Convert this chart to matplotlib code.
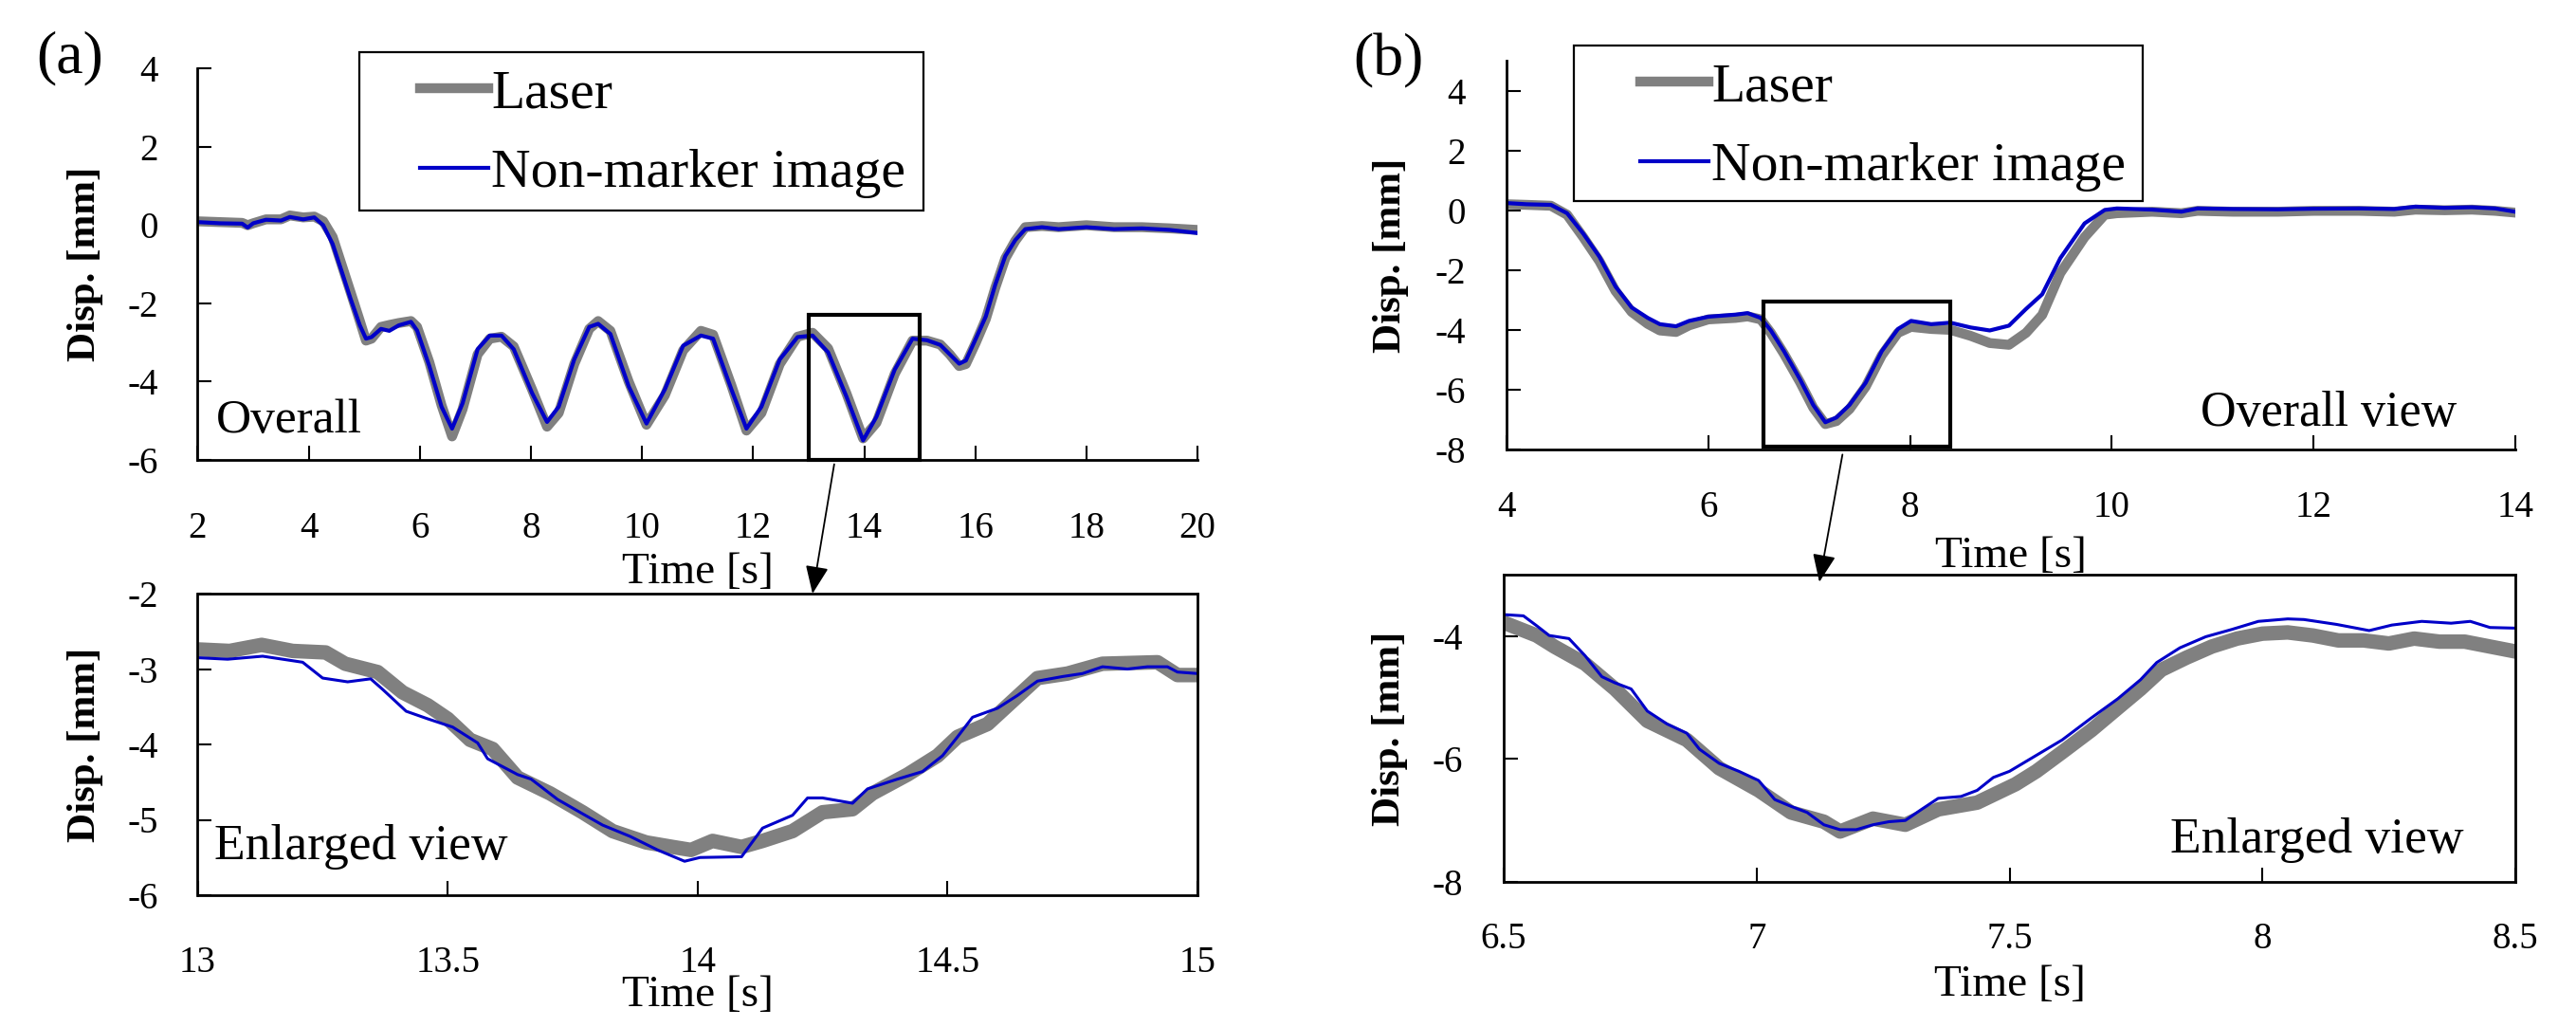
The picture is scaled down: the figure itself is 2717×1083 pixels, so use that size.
import numpy as np
import matplotlib
matplotlib.use('Agg')
import matplotlib.pyplot as plt
from matplotlib.patches import Rectangle

plt.rcParams['font.family'] = 'serif'
plt.rcParams['font.serif'] = ['Liberation Serif', 'Times New Roman', 'DejaVu Serif']
plt.rcParams['axes.unicode_minus'] = False

# ---- (a) overall ----
t_a = [2.0, 2.4, 2.8, 2.9, 3.0, 3.23, 3.5, 3.66, 3.9, 4.1, 4.26, 4.43, 4.59, 4.75, 4.92, 5.03,
       5.13, 5.3, 5.45, 5.62, 5.84, 5.95, 6.17, 6.39, 6.58, 6.77, 7.04, 7.26, 7.47, 7.69, 8.02,
       8.29, 8.5, 8.78, 9.05, 9.21, 9.43, 9.76, 10.08, 10.41, 10.74, 11.06, 11.28, 11.61, 11.88,
       12.15, 12.48, 12.8, 13.07, 13.35, 13.68, 13.98, 14.22, 14.55, 14.87, 15.13, 15.37, 15.54,
       15.71, 15.83, 16.01, 16.19, 16.36, 16.54, 16.72, 16.9, 17.2, 17.5, 18.0, 18.5, 19.0, 19.5, 20.0]
img_a = [0.08, 0.05, 0.04, -0.06, 0.05, 0.14, 0.12, 0.21, 0.15, 0.2, 0.0, -0.48, -1.17, -1.87,
         -2.56, -2.9, -2.86, -2.65, -2.7, -2.56, -2.47, -2.69, -3.6, -4.64, -5.2, -4.55, -3.17,
         -2.82, -2.82, -3.17, -4.29, -5.03, -4.64, -3.43, -2.6, -2.52, -2.78, -4.12, -5.07, -4.2,
         -3.08, -2.82, -2.9, -4.2, -5.2, -4.64, -3.43, -2.86, -2.82, -3.25, -4.38, -5.5, -4.9,
         -3.69, -2.9, -2.94, -3.06, -3.3, -3.54, -3.46, -2.9, -2.33, -1.52, -0.79, -0.38, -0.1,
         -0.05, -0.1, -0.05, -0.1, -0.08, -0.12, -0.2]
laser_a = [0.1, 0.08, 0.06, 0.0, 0.05, 0.15, 0.15, 0.25, 0.2, 0.22, 0.1, -0.3, -1.0, -1.7,
           -2.45, -2.95, -2.9, -2.6, -2.55, -2.5, -2.45, -2.6, -3.5, -4.6, -5.4, -4.7, -3.3,
           -2.9, -2.85, -3.1, -4.2, -5.15, -4.8, -3.55, -2.65, -2.45, -2.7, -4.0, -5.1, -4.35,
           -3.2, -2.7, -2.8, -4.1, -5.25, -4.8, -3.55, -2.85, -2.75, -3.15, -4.3, -5.45, -5.05,
           -3.8, -2.95, -2.95, -3.05, -3.3, -3.6, -3.55, -3.0, -2.4, -1.6, -0.85, -0.4, -0.05,
           -0.02, -0.05, 0.0, -0.05, -0.05, -0.08, -0.12]

# ---- (a) enlarged ----
t_a_img = [13.0, 13.06, 13.13, 13.21, 13.25, 13.3, 13.346, 13.37, 13.417, 13.46, 13.51, 13.56,
           13.58, 13.64, 13.667, 13.72, 13.77, 13.81, 13.865, 13.92, 13.974, 14.005, 14.088,
           14.13, 14.19, 14.22, 14.25, 14.31, 14.34, 14.4, 14.45, 14.49, 14.52, 14.55, 14.6,
           14.64, 14.68, 14.73, 14.77, 14.81, 14.86, 14.9, 14.94, 14.96, 15.0]
img_a_zoom = [-2.85, -2.87, -2.83, -2.91, -3.12, -3.17, -3.13, -3.27, -3.56, -3.66, -3.77, -3.98,
              -4.19, -4.4, -4.46, -4.73, -4.92, -5.07, -5.22, -5.4, -5.55, -5.5, -5.49, -5.11,
              -4.94, -4.71, -4.71, -4.78, -4.59, -4.46, -4.36, -4.15, -3.9, -3.64, -3.52, -3.35,
              -3.16, -3.1, -3.06, -2.97, -3.0, -2.97, -2.97, -3.04, -3.06]
t_a_las = [13.0, 13.064, 13.128, 13.19, 13.256, 13.295, 13.36, 13.41, 13.46, 13.5, 13.545, 13.59,
           13.64, 13.705, 13.77, 13.83, 13.897, 13.95, 13.987, 14.03, 14.088, 14.13, 14.19, 14.25,
           14.31, 14.35, 14.42, 14.48, 14.52, 14.58, 14.68, 14.74, 14.81, 14.92, 14.96, 15.0]
laser_a_zoom = [-2.74, -2.76, -2.68, -2.76, -2.78, -2.93, -3.04, -3.31, -3.48, -3.66, -3.94, -4.06,
                -4.44, -4.65, -4.9, -5.15, -5.3, -5.36, -5.4, -5.28, -5.36, -5.28, -5.15, -4.9,
                -4.86, -4.65, -4.4, -4.15, -3.9, -3.73, -3.12, -3.06, -2.93, -2.91, -3.08, -3.08]

# ---- (b) overall ----
t_b = [4.0, 4.2, 4.44, 4.6, 4.76, 4.92, 5.08, 5.24, 5.4, 5.52, 5.68, 5.81, 6.0, 6.27, 6.39, 6.52,
       6.62, 6.75, 6.91, 7.04, 7.16, 7.27, 7.4, 7.56, 7.72, 7.88, 8.01, 8.21, 8.4, 8.6, 8.79, 8.98,
       9.15, 9.31, 9.49, 9.73, 9.93, 10.05, 10.4, 10.69, 10.85, 11.2, 11.65, 12.0, 12.45, 12.8,
       13.01, 13.3, 13.57, 13.8, 14.0]
img_b = [0.24, 0.2, 0.18, -0.1, -0.78, -1.55, -2.55, -3.25, -3.6, -3.81, -3.88, -3.7, -3.56,
         -3.49, -3.44, -3.6, -4.02, -4.71, -5.66, -6.51, -7.09, -6.93, -6.51, -5.77, -4.71, -3.97,
         -3.7, -3.81, -3.76, -3.92, -4.02, -3.86, -3.3, -2.81, -1.6, -0.44, 0.01, 0.06, 0.02,
         -0.05, 0.06, 0.04, 0.03, 0.05, 0.06, 0.04, 0.12, 0.08, 0.1, 0.06, -0.05]
laser_b = [0.2, 0.18, 0.15, -0.15, -0.9, -1.7, -2.7, -3.4, -3.8, -4.02, -4.07, -3.85, -3.65,
           -3.6, -3.55, -3.65, -4.1, -4.8, -5.75, -6.6, -7.15, -7.05, -6.65, -5.9, -4.85, -4.1,
           -3.9, -3.97, -4.0, -4.2, -4.44, -4.5, -4.1, -3.5, -2.1, -0.9, -0.15, -0.1, -0.05,
           -0.1, -0.02, -0.05, -0.05, -0.02, -0.02, -0.05, 0.02, 0.0, 0.02, -0.02, -0.08]

# ---- (b) enlarged ----
t_b_img = [6.5, 6.539, 6.565, 6.59, 6.629, 6.661, 6.694, 6.72, 6.752, 6.784, 6.823, 6.862, 6.887,
           6.926, 6.965, 7.004, 7.036, 7.068, 7.1, 7.133, 7.165, 7.197, 7.23, 7.262, 7.294, 7.326,
           7.359, 7.404, 7.436, 7.468, 7.5, 7.553, 7.604, 7.662, 7.714, 7.759, 7.791, 7.837,
           7.888, 7.94, 7.992, 8.05, 8.082, 8.147, 8.211, 8.256, 8.315, 8.373, 8.411, 8.45, 8.5]
img_b_zoom = [-3.65, -3.67, -3.83, -3.99, -4.04, -4.32, -4.66, -4.76, -4.86, -5.22, -5.43, -5.58,
              -5.84, -6.07, -6.2, -6.35, -6.66, -6.77, -6.87, -7.07, -7.15, -7.15, -7.07, -7.02,
              -7.0, -6.82, -6.64, -6.61, -6.51, -6.3, -6.2, -5.94, -5.69, -5.33, -5.02, -4.71,
              -4.43, -4.19, -4.01, -3.89, -3.76, -3.72, -3.73, -3.81, -3.91, -3.82, -3.76, -3.79,
              -3.76, -3.86, -3.87]
t_b_las = [6.5, 6.565, 6.6, 6.661, 6.72, 6.784, 6.862, 6.926, 7.004, 7.068, 7.133, 7.165, 7.23,
           7.294, 7.359, 7.436, 7.512, 7.553, 7.604, 7.662, 7.714, 7.759, 7.8, 7.85, 7.9, 7.95,
           8.0, 8.05, 8.1, 8.15, 8.2, 8.25, 8.3, 8.35, 8.4, 8.45, 8.5]
laser_b_zoom = [-3.78, -3.99, -4.17, -4.45, -4.86, -5.38, -5.69, -6.15, -6.51, -6.87, -7.02,
                -7.18, -6.97, -7.07, -6.82, -6.71, -6.41, -6.2, -5.89, -5.53, -5.17, -4.86,
                -4.55, -4.35, -4.17, -4.04, -3.96, -3.94, -3.99, -4.07, -4.07, -4.12, -4.04,
                -4.09, -4.09, -4.17, -4.25]

# zoom windows marked on the overall plots: t0, t1, v0, v1
win_a = [13.0, 15.0, -6.0, -2.3]
win_b = [6.55, 8.4, -7.9, -3.05]

xt_a = [2, 4, 6, 8, 10, 12, 14, 16, 18, 20]
yt_a = [4, 2, 0, -2, -4, -6]
xt_az = [13, 13.5, 14, 14.5, 15]
xl_az = ['13', '13.5', '14', '14.5', '15']
yt_az = [-2, -3, -4, -5, -6]
xt_b = [4, 6, 8, 10, 12, 14]
yt_b = [4, 2, 0, -2, -4, -6, -8]
xt_bz = [6.5, 7, 7.5, 8, 8.5]
xl_bz = ['6.5', '7', '7.5', '8', '8.5']
yt_bz = [-4, -6, -8]

GRAY = '#808080'
BLUE = '#0000c8'
W, H = 2717, 1083


def ax_px(left, top, right, bottom):
    return [left / W, 1 - bottom / H, (right - left) / W, (bottom - top) / H]


fig = plt.figure(figsize=(W / 100, H / 100), dpi=100)

ax_a = fig.add_axes(ax_px(208.5, 72.5, 1263, 485))
ax_az = fig.add_axes(ax_px(208.5, 626, 1263, 944))
ax_b = fig.add_axes(ax_px(1589, 64, 2653, 474))
ax_bz = fig.add_axes(ax_px(1586, 606, 2653, 930))


def style(ax, box, pad_x, pad_y):
    for s in ['top', 'right']:
        ax.spines[s].set_visible(box)
    for s in ax.spines.values():
        s.set_linewidth(2.0)
    ax.tick_params(direction='in', length=11, width=1.5, labelsize=28,
                   top=False, right=False)
    ax.tick_params(axis='x', pad=pad_x)
    ax.tick_params(axis='y', pad=pad_y)


# (a) overall
ax_a.plot(t_a, laser_a, color=GRAY, lw=7.5, solid_joinstyle='round', label='Laser')
ax_a.plot(t_a, img_a, color=BLUE, lw=3.0, label='Non-marker image')
ax_a.set_xlim(2, 20)
ax_a.set_ylim(-6, 4)
ax_a.set_xticks(xt_a)
ax_a.set_yticks(yt_a)
style(ax_a, False, 39, 30)
ax_a.add_patch(Rectangle((win_a[0], win_a[2]), win_a[1] - win_a[0], win_a[3] - win_a[2],
                         fill=False, ec='k', lw=3, clip_on=False, zorder=5))
ax_a.text(0.018, 0.10, 'Overall', transform=ax_a.transAxes, fontsize=37,
          ha='left', va='center')

# (a) enlarged
ax_az.plot(t_a_las, laser_a_zoom, color=GRAY, lw=11, solid_joinstyle='round')
ax_az.plot(t_a_img, img_a_zoom, color=BLUE, lw=2.2)
ax_az.set_xlim(13, 15)
ax_az.set_ylim(-6, -2)
ax_az.set_xticks(xt_az)
ax_az.set_xticklabels(xl_az)
ax_az.set_yticks(yt_az)
style(ax_az, True, 38, 30)
ax_az.text(0.017, 0.16, 'Enlarged view', transform=ax_az.transAxes, fontsize=38.5,
           ha='left', va='center')

# (b) overall
ax_b.plot(t_b, laser_b, color=GRAY, lw=7.5, solid_joinstyle='round', label='Laser')
ax_b.plot(t_b, img_b, color=BLUE, lw=3.0, label='Non-marker image')
ax_b.set_xlim(4, 14)
ax_b.set_ylim(-8, 5)
ax_b.set_xticks(xt_b)
ax_b.set_yticks(yt_b)
style(ax_b, False, 31, 31)
ax_b.add_patch(Rectangle((win_b[0], win_b[2]), win_b[1] - win_b[0], win_b[3] - win_b[2],
                         fill=False, ec='k', lw=3, clip_on=False, zorder=5))
ax_b.text(0.942, 0.093, 'Overall view', transform=ax_b.transAxes, fontsize=37.5,
          ha='right', va='center')

# (b) enlarged
ax_bz.plot(t_b_las, laser_b_zoom, color=GRAY, lw=11, solid_joinstyle='round')
ax_bz.plot(t_b_img, img_b_zoom, color=BLUE, lw=2.2)
ax_bz.set_xlim(6.5, 8.5)
ax_bz.set_ylim(-8, -3)
ax_bz.set_xticks(xt_bz)
ax_bz.set_xticklabels(xl_bz)
ax_bz.set_yticks(yt_bz)
style(ax_bz, True, 30, 31)
ax_bz.text(0.949, 0.136, 'Enlarged view', transform=ax_bz.transAxes, fontsize=38.5,
           ha='right', va='center')

# axis labels
for ax, yl_x, xl_y in [(ax_a, -0.288, None), (ax_az, -0.334, None),
                       (ax_b, -0.274, None), (ax_bz, -0.335, None)]:
    pass

for ax, yl_x, xl_y in [(ax_a, -0.112, -0.288), (ax_az, -0.112, -0.334),
                       (ax_b, -0.115, -0.274), (ax_bz, -0.112, -0.335)]:
    ax.set_xlabel('Time [s]', fontsize=34, va='center')
    ax.xaxis.set_label_coords(0.5, xl_y)
    ax.set_ylabel('Disp. [mm]', fontsize=31, fontweight='bold', va='center')
    ax.yaxis.set_label_coords(yl_x, 0.5)

# arrows from the zoom box to the enlarged view
ax_az.annotate('', xy=(14.23, -2.0), xycoords='data',
               xytext=(13.46, -6.11), textcoords=ax_a.transData,
               arrowprops=dict(arrowstyle='-|>,head_length=0.6,head_width=0.25',
                               color='k', lw=1.3, mutation_scale=30,
                               shrinkA=0, shrinkB=0),
               annotation_clip=False)
ax_bz.annotate('', xy=(7.124, -3.12), xycoords='data',
               xytext=(7.33, -8.17), textcoords=ax_b.transData,
               arrowprops=dict(arrowstyle='-|>,head_length=0.6,head_width=0.25',
                               color='k', lw=1.3, mutation_scale=30,
                               shrinkA=0, shrinkB=0),
               annotation_clip=False)

# legends with separate frames
for ax, frame, anchor in [(ax_a, (379, 55, 974, 222), (443, 73)),
                          (ax_b, (1660, 47.5, 2260, 212), (1730, 66))]:
    l, t, r, b = frame
    fig.add_artist(Rectangle((l / W, 1 - b / H), (r - l) / W, (b - t) / H,
                             transform=fig.transFigure, fill=False, ec='k', lw=1.6))
    ax.legend(loc='upper left', bbox_to_anchor=(anchor[0] / W, 1 - anchor[1] / H),
              bbox_transform=fig.transFigure, frameon=False, fontsize=41.5,
              borderpad=0, borderaxespad=0, handlelength=1.25, handletextpad=0.05,
              labelspacing=0.55)

fig.text(38 / W, 1 - 61 / H, '(a)', fontsize=46, ha='left', va='center')
fig.text(1427 / W, 1 - 64 / H, '(b)', fontsize=46, ha='left', va='center')

fig.savefig('out.png', dpi=100)
